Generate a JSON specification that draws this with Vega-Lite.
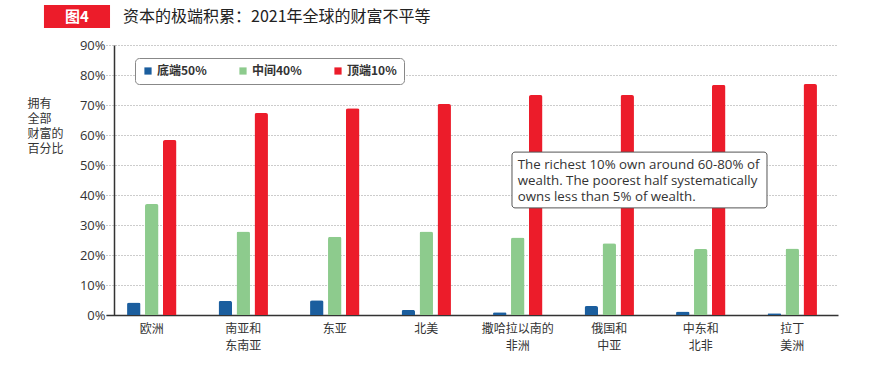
{
  "$schema": "https://vega.github.io/schema/vega-lite/v6.json",
  "autosize": {"type": "none"},
  "padding": {"left": 106, "top": 45, "right": 54, "bottom": 69},
  "width": 732,
  "height": 270,
  "background": "white",
  "config": {
    "view": {"stroke": null},
    "font": "Open Sans"
  },
  "resolve": {"scale": {"x": "independent", "y": "independent"}},
  "layer": [
    {
      "data": {
        "values": [
          {"region": "欧洲", "group": "底端50%", "value": 4.2},
          {"region": "欧洲", "group": "中间40%", "value": 37.0},
          {"region": "欧洲", "group": "顶端10%", "value": 58.3},
          {"region": "南亚和|东南亚", "group": "底端50%", "value": 4.7},
          {"region": "南亚和|东南亚", "group": "中间40%", "value": 27.8},
          {"region": "南亚和|东南亚", "group": "顶端10%", "value": 67.3},
          {"region": "东亚", "group": "底端50%", "value": 4.9},
          {"region": "东亚", "group": "中间40%", "value": 26.1},
          {"region": "东亚", "group": "顶端10%", "value": 68.9},
          {"region": "北美", "group": "底端50%", "value": 1.7},
          {"region": "北美", "group": "中间40%", "value": 27.8},
          {"region": "北美", "group": "顶端10%", "value": 70.3},
          {"region": "撒哈拉以南的|非洲", "group": "底端50%", "value": 0.9},
          {"region": "撒哈拉以南的|非洲", "group": "中间40%", "value": 25.8},
          {"region": "撒哈拉以南的|非洲", "group": "顶端10%", "value": 73.3},
          {"region": "俄国和|中亚", "group": "底端50%", "value": 3.0},
          {"region": "俄国和|中亚", "group": "中间40%", "value": 23.9},
          {"region": "俄国和|中亚", "group": "顶端10%", "value": 73.3},
          {"region": "中东和|北非", "group": "底端50%", "value": 1.2},
          {"region": "中东和|北非", "group": "中间40%", "value": 22.0},
          {"region": "中东和|北非", "group": "顶端10%", "value": 76.7},
          {"region": "拉丁|美洲", "group": "底端50%", "value": 0.6},
          {"region": "拉丁|美洲", "group": "中间40%", "value": 22.2},
          {"region": "拉丁|美洲", "group": "顶端10%", "value": 77.0}
        ]
      },
      "mark": {"type": "bar", "cornerRadiusEnd": 2},
      "encoding": {
        "x": {
          "field": "region",
          "type": "nominal",
          "sort": null,
          "scale": {"paddingInner": 0.46, "paddingOuter": 0.23},
          "axis": {
            "title": null,
            "labelAngle": 0,
            "labelExpr": "split(datum.value, '|')",
            "labelFont": "Noto Sans CJK SC",
            "labelFontSize": 12,
            "labelColor": "#333333",
            "labelPadding": 8,
            "labelLineHeight": 17,
            "ticks": false,
            "domainColor": "#333333",
            "domainWidth": 1.5
          }
        },
        "xOffset": {
          "field": "group",
          "type": "nominal",
          "sort": ["底端50%", "中间40%", "顶端10%"],
          "scale": {"paddingInner": 0.25, "paddingOuter": 0}
        },
        "y": {
          "field": "value",
          "type": "quantitative",
          "scale": {"domain": [0, 90]},
          "axis": {
            "offset": -8,
            "values": [0, 10, 20, 30, 40, 50, 60, 70, 80, 90],
            "labelOverlap": false,
            "labelExpr": "datum.value + '%'",
            "labelFontSize": 13,
            "labelColor": "#333333",
            "labelPadding": 9,
            "ticks": false,
            "domainColor": "#333333",
            "domainWidth": 1.5,
            "gridColor": "#999999",
            "gridDash": [1, 2],
            "gridWidth": 1,
            "title": ["拥有", "全部", "财富的", "百分比"],
            "titleFont": "Noto Sans CJK SC",
            "titleFontSize": 12,
            "titleFontWeight": "normal",
            "titleColor": "#333333",
            "titleAngle": 0,
            "titleAlign": "left",
            "titleBaseline": "top",
            "titleLineHeight": 15,
            "titleX": -87,
            "titleY": 53
          }
        },
        "color": {
          "field": "group",
          "type": "nominal",
          "sort": ["底端50%", "中间40%", "顶端10%"],
          "scale": {
            "domain": ["底端50%", "中间40%", "顶端10%"],
            "range": ["#1b5e9e", "#8dcb8d", "#ec1c2a"]
          },
          "legend": {
            "title": null,
            "orient": "none",
            "legendX": 29,
            "legendY": 13,
            "direction": "horizontal",
            "columns": 3,
            "gridAlign": "all",
            "columnPadding": 30,
            "symbolType": "square",
            "symbolSize": 52,
            "symbolStrokeWidth": 0,
            "labelFont": "Noto Sans CJK SC",
            "labelFontSize": 12,
            "labelFontWeight": "bold",
            "labelColor": "#333333",
            "labelOffset": 3,
            "padding": 7,
            "strokeColor": "#888888",
            "fillColor": "white",
            "cornerRadius": 4
          }
        }
      }
    },
    {
      "data": {
        "values": [
          {"x": 4.437, "x2": 7.224, "y": 54.3, "y2": 35.7}
        ]
      },
      "mark": {"type": "rect", "fill": "white", "stroke": "#555555", "strokeWidth": 1, "cornerRadius": 3, "clip": false},
      "encoding": {
        "x": {"field": "x", "type": "quantitative", "scale": {"domain": [0, 8]}, "axis": null},
        "x2": {"field": "x2"},
        "y": {"field": "y", "type": "quantitative", "scale": {"domain": [0, 90]}, "axis": null},
        "y2": {"field": "y2"}
      }
    },
    {
      "data": {
        "values": [
          {"x": 4.5, "y": 52.4, "label": ["The richest 10% own around 60-80% of", "wealth. The poorest half systematically", "owns less than 5% of wealth."]}
        ]
      },
      "mark": {"type": "text", "align": "left", "baseline": "top", "font": "Open Sans", "fontSize": 13.3, "lineHeight": 16, "color": "#333333", "clip": false},
      "encoding": {
        "x": {"field": "x", "type": "quantitative", "scale": {"domain": [0, 8]}, "axis": null},
        "y": {"field": "y", "type": "quantitative", "scale": {"domain": [0, 90]}, "axis": null},
        "text": {"field": "label"}
      }
    },
    {
      "data": {
        "values": [
          {"x": -0.678, "x2": 0.044, "y": 103.33, "y2": 95.67}
        ]
      },
      "mark": {"type": "rect", "fill": "#ec1c2a", "clip": false},
      "encoding": {
        "x": {"field": "x", "type": "quantitative", "scale": {"domain": [0, 8]}, "axis": null},
        "x2": {"field": "x2"},
        "y": {"field": "y", "type": "quantitative", "scale": {"domain": [0, 90]}, "axis": null},
        "y2": {"field": "y2"}
      }
    },
    {
      "data": {
        "values": [
          {"x": -0.317, "y": 99.5, "label": "图4"}
        ]
      },
      "mark": {"type": "text", "align": "center", "baseline": "middle", "font": "Noto Sans CJK SC", "fontSize": 15, "fontWeight": "bold", "color": "white", "clip": false},
      "encoding": {
        "x": {"field": "x", "type": "quantitative", "scale": {"domain": [0, 8]}, "axis": null},
        "y": {"field": "y", "type": "quantitative", "scale": {"domain": [0, 90]}, "axis": null},
        "text": {"field": "label"}
      }
    },
    {
      "data": {
        "values": [
          {"x": 0.186, "y": 99.4, "label": "资本的极端积累：2021年全球的财富不平等"}
        ]
      },
      "mark": {"type": "text", "align": "left", "baseline": "middle", "font": "Noto Sans CJK SC", "fontSize": 16, "color": "#222222", "clip": false},
      "encoding": {
        "x": {"field": "x", "type": "quantitative", "scale": {"domain": [0, 8]}, "axis": null},
        "y": {"field": "y", "type": "quantitative", "scale": {"domain": [0, 90]}, "axis": null},
        "text": {"field": "label"}
      }
    }
  ]
}
